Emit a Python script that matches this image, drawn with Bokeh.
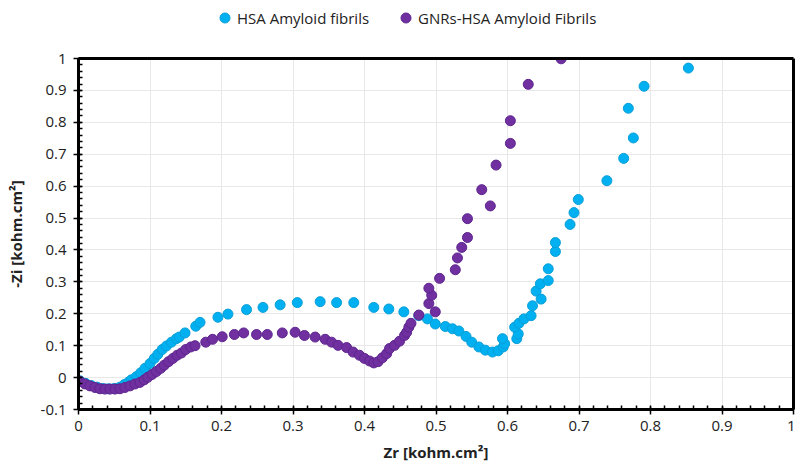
from bokeh.plotting import figure
from bokeh.layouts import column
from bokeh.models import (Legend, LegendItem, SingleIntervalTicker, FixedTicker,
                          CustomJSTickFormatter, Range1d, LinearAxis)
from bokeh.embed import file_html
from bokeh.resources import INLINE

# HSA Amyloid fibrils (cyan)
hsa_zr = [0.002, 0.010, 0.018, 0.026, 0.034, 0.042, 0.050, 0.058, 0.064, 0.070,
          0.074, 0.081, 0.087, 0.093, 0.100, 0.106, 0.111, 0.117, 0.123, 0.130,
          0.137, 0.141, 0.149, 0.164, 0.170, 0.195, 0.209, 0.235, 0.258, 0.282,
          0.306, 0.338, 0.361, 0.385, 0.413, 0.434, 0.455, 0.476, 0.488, 0.499,
          0.513, 0.523, 0.532, 0.542, 0.550, 0.560, 0.569, 0.579, 0.587, 0.594,
          0.596, 0.593, 0.613, 0.615, 0.610, 0.616, 0.623, 0.633, 0.635, 0.647,
          0.640, 0.646, 0.657, 0.657, 0.667, 0.667, 0.6875, 0.693, 0.699, 0.739,
          0.7625, 0.776, 0.769, 0.791, 0.853]
hsa_zi = [-0.010, -0.018, -0.025, -0.030, -0.034, -0.035, -0.034, -0.030, -0.022, -0.014,
          -0.007, 0.003, 0.015, 0.029, 0.044, 0.060, 0.073, 0.088, 0.099, 0.111,
          0.122, 0.127, 0.140, 0.161, 0.173, 0.189, 0.199, 0.213, 0.220, 0.228,
          0.235, 0.238, 0.235, 0.235, 0.220, 0.215, 0.206, 0.194, 0.184, 0.168,
          0.160, 0.153, 0.146, 0.129, 0.111, 0.096, 0.086, 0.080, 0.084, 0.096,
          0.106, 0.122, 0.122, 0.137, 0.158, 0.170, 0.184, 0.194, 0.225, 0.246,
          0.271, 0.294, 0.304, 0.341, 0.395, 0.423, 0.480, 0.517, 0.558, 0.617,
          0.687, 0.751, 0.844, 0.913, 0.970]

# GNRs-HSA Amyloid Fibrils (purple)
gnr_zr = [0.002, 0.009, 0.016, 0.023, 0.030, 0.037, 0.044, 0.051, 0.058, 0.065,
          0.072, 0.079, 0.086, 0.092, 0.097, 0.103, 0.109, 0.115, 0.120, 0.126,
          0.132, 0.138, 0.144, 0.150, 0.157, 0.163, 0.178, 0.1875, 0.201, 0.218,
          0.231, 0.249, 0.264, 0.285, 0.303, 0.316, 0.331, 0.345, 0.354, 0.363,
          0.375, 0.384, 0.393, 0.400, 0.407, 0.413, 0.419, 0.425, 0.431, 0.435,
          0.442, 0.449, 0.456, 0.459, 0.462, 0.465, 0.476, 0.499, 0.490, 0.494,
          0.490, 0.505, 0.527, 0.530, 0.536, 0.544, 0.544, 0.576, 0.564, 0.584,
          0.604, 0.604, 0.629, 0.675]
gnr_zi = [-0.012, -0.020, -0.026, -0.031, -0.035, -0.036, -0.036, -0.036, -0.035, -0.031,
          -0.026, -0.020, -0.015, -0.007, 0.001, 0.010, 0.019, 0.029, 0.039, 0.050,
          0.060, 0.070, 0.077, 0.088, 0.096, 0.100, 0.111, 0.120, 0.128, 0.135,
          0.140, 0.135, 0.135, 0.140, 0.142, 0.132, 0.127, 0.120, 0.111, 0.101,
          0.094, 0.080, 0.070, 0.060, 0.052, 0.046, 0.050, 0.062, 0.075, 0.091,
          0.101, 0.114, 0.132, 0.142, 0.158, 0.170, 0.196, 0.206, 0.232, 0.258,
          0.280, 0.311, 0.338, 0.375, 0.408, 0.439, 0.498, 0.538, 0.589, 0.666,
          0.734, 0.805, 0.919, 0.999]

series_names = ["HSA Amyloid fibrils", "GNRs-HSA Amyloid Fibrils"]
series_fill = ["#00B0F0", "#7030A0"]
series_line = ["#0A9FD8", "#5E2590"]

FONT = "Open Sans"

# ---- legend strip (own small figure above the chart) ----
pl = figure(width=795, height=34, output_backend="svg", toolbar_location=None,
            x_range=Range1d(0, 1), y_range=Range1d(0, 1),
            x_axis_location=None, y_axis_location=None,
            min_border_left=0, min_border_right=0, min_border_top=0, min_border_bottom=0)
pl.outline_line_color = None
pl.xgrid.visible = False
pl.ygrid.visible = False
# legend proxies: one point each, outside the strip's visible range
lr1 = pl.scatter(x=[-5], y=[-5], size=10, fill_color=series_fill[0], line_color=series_line[0])
lr2 = pl.scatter(x=[-5], y=[-5], size=10, fill_color=series_fill[1], line_color=series_line[1])
legend = Legend(items=[LegendItem(label=series_names[0], renderers=[lr1]),
                       LegendItem(label=series_names[1], renderers=[lr2])],
                orientation="horizontal", location=(134, 4),
                border_line_alpha=0, background_fill_alpha=0,
                padding=0, margin=0, spacing=24, label_standoff=0,
                glyph_width=25, glyph_height=25, label_height=25,
                label_text_font=FONT, label_text_font_size="15px",
                label_text_color="#222222")
pl.add_layout(legend, "center")

# ---- main chart ----
p = figure(width=795, height=433, output_backend="svg", toolbar_location=None,
           x_range=Range1d(0, 1), y_range=Range1d(-0.1, 1),
           min_border_left=78, min_border_right=2, min_border_top=24, min_border_bottom=58)

p.background_fill_color = "white"
p.border_fill_color = "white"
p.outline_line_color = None

r1 = p.scatter(hsa_zr, hsa_zi, size=10, fill_color=series_fill[0], line_color=series_line[0], line_width=1)
r2 = p.scatter(gnr_zr, gnr_zi, size=10, fill_color=series_fill[1], line_color=series_line[1], line_width=1)

fmt = CustomJSTickFormatter(code="var s = tick.toFixed(1); if (s.endsWith('.0')) s = s.slice(0, -2); if (s == '-0') s = '0'; return s;")

for ax in (p.xaxis[0], p.yaxis[0]):
    ax.ticker = SingleIntervalTicker(interval=0.1, num_minor_ticks=5)
    ax.formatter = fmt
    ax.axis_line_width = 3
    ax.axis_line_color = "black"
    ax.major_tick_line_color = "black"
    ax.major_tick_line_width = 1.5
    ax.minor_tick_line_color = "black"
    ax.minor_tick_line_width = 1.5
    ax.major_tick_in = 3
    ax.major_tick_out = 5
    ax.minor_tick_in = 4
    ax.minor_tick_out = 0
    ax.major_label_text_font = FONT
    ax.major_label_text_font_size = "15px"
    ax.major_label_text_color = "#222222"
    ax.axis_label_text_font = FONT
    ax.axis_label_text_font_size = "15px"
    ax.axis_label_text_font_style = "bold"
    ax.axis_label_text_color = "#222222"

p.xaxis.axis_label = "Zr [kohm.cm²]"
p.yaxis.axis_label = "-Zi [kohm.cm²]"
p.xaxis.major_label_standoff = 6
p.yaxis.major_label_standoff = 7
p.xaxis.axis_label_standoff = 8
p.yaxis.axis_label_standoff = 12

# plain frame lines on top and right (no ticks, no labels)
for side in ("above", "right"):
    fa = LinearAxis(ticker=FixedTicker(ticks=[]), axis_line_width=3, axis_line_color="black",
                    major_tick_in=0, major_tick_out=0, minor_tick_in=0, minor_tick_out=0,
                    major_label_text_font_size="0px", major_label_standoff=0)
    p.add_layout(fa, side)

p.xgrid.grid_line_color = "#E8E8E8"
p.ygrid.grid_line_color = "#E8E8E8"

layout = column(pl, p, spacing=0)
open("out.html", "w").write(file_html(layout, INLINE))
